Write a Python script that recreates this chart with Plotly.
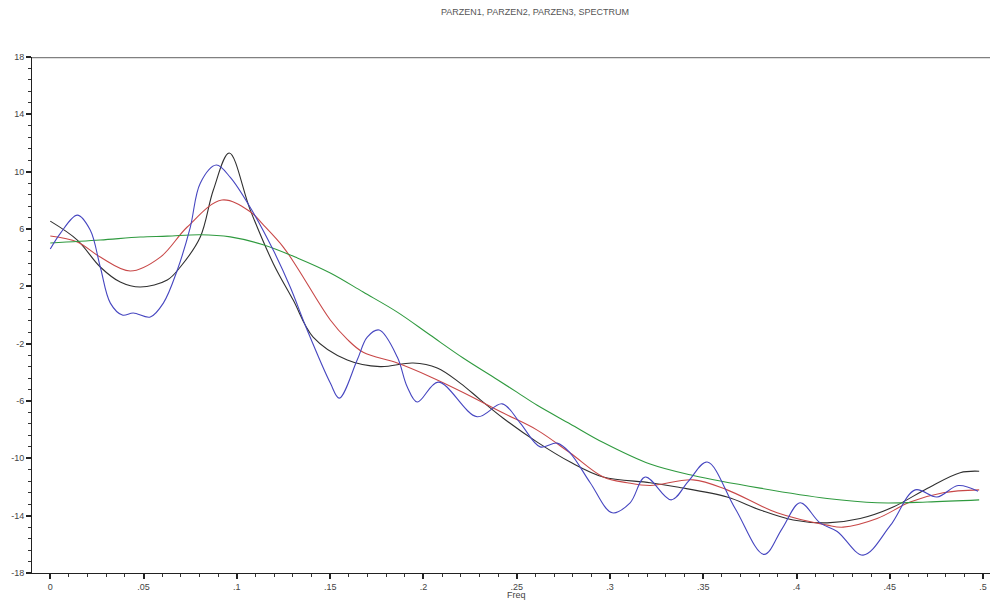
import plotly.graph_objects as go

# ---- data ----
title_text = "PARZEN1, PARZEN2, PARZEN3, SPECTRUM"
x_label = "Freq"

x_tick_vals = [0, 0.05, 0.1, 0.15, 0.2, 0.25, 0.3, 0.35, 0.4, 0.45, 0.5]
x_tick_text = ["0", ".05", ".1", ".15", ".2", ".25", ".3", ".35", ".4", ".45", ".5"]
y_tick_vals = [-18, -14, -10, -6, -2, 2, 6, 10, 14, 18]
y_tick_text = ["-18", "-14", "-10", "-6", "-2", "2", "6", "10", "14", "18"]

# PARZEN1 (black, narrowest smoothing)
parzen1_x = [0, 0.0145, 0.0268, 0.0375, 0.0482, 0.0627, 0.0697, 0.0804, 0.0874, 0.0959,
             0.1072, 0.1195, 0.1302, 0.1409, 0.1592, 0.1768, 0.1945, 0.2074,
             0.2197, 0.2304, 0.2428, 0.2610, 0.2787, 0.2964, 0.3215, 0.3360, 0.3628, 0.3805,
             0.3982, 0.4164, 0.4341, 0.4518, 0.4700, 0.4877, 0.4979]
parzen1_y = [6.55, 5.23, 3.35, 2.3, 1.95, 2.44, 3.35, 5.44, 8.72, 11.3,
             7.32, 3.6, 1.04, -1.54, -3.14, -3.6, -3.35, -3.7,
             -4.75, -5.9, -7.2, -8.87, -10.26, -11.3, -11.7, -12.0, -12.7, -13.6,
             -14.3, -14.5, -14.2, -13.4, -12.1, -11.0, -10.9]

# PARZEN2 (red)
parzen2_x = [0, 0.0145, 0.0268, 0.0429, 0.0590, 0.0734, 0.0920, 0.1072, 0.1141, 0.1249,
             0.1324, 0.1501, 0.1592, 0.1677, 0.1860, 0.2036, 0.2213, 0.2428, 0.2610, 0.2787,
             0.2964, 0.3092, 0.3215, 0.3446, 0.3628, 0.3896, 0.4164, 0.4250, 0.4432, 0.4609,
             0.4786, 0.4979]
parzen2_y = [5.51, 5.1, 4.04, 3.07, 4.04, 6.14, 8.02, 7.2, 6.3, 4.74,
             3.3, -0.35, -1.7, -2.6, -3.35, -4.3, -5.4, -6.84, -8.03, -9.63,
             -11.3, -11.7, -11.9, -11.5, -12.2, -13.8, -14.66, -14.8, -14.2, -13.05,
             -12.4, -12.2]

# PARZEN3 (green, widest smoothing)
parzen3_x = [0, 0.0268, 0.0482, 0.0627, 0.0804, 0.0965, 0.1141, 0.1324, 0.1501, 0.1677,
             0.1860, 0.2036, 0.2213, 0.2395, 0.2503, 0.2610, 0.2787, 0.2964, 0.3215, 0.3446,
             0.3805, 0.4164, 0.4432, 0.4700, 0.4979]
parzen3_y = [5.02, 5.23, 5.44, 5.5, 5.6, 5.45, 4.9, 3.98, 2.93, 1.6,
             0.2, -1.4, -3.0, -4.5, -5.4, -6.3, -7.6, -8.9, -10.4, -11.2,
             -12.08, -12.8, -13.1, -13.05, -12.9]

# SPECTRUM (blue, raw)
spectrum_x = [0, 0.0054, 0.0145, 0.0214, 0.0268, 0.0322, 0.0386, 0.0445, 0.0536, 0.0606,
              0.0681, 0.0750, 0.0804, 0.0890, 0.0965, 0.1072, 0.1195, 0.1286, 0.1377, 0.1501,
              0.1549, 0.1645, 0.1699, 0.1763, 0.1860, 0.1913, 0.1967, 0.2079, 0.2288, 0.2422,
              0.2519, 0.2626, 0.2717, 0.2787, 0.2894, 0.3012, 0.3108, 0.3189, 0.3328, 0.3420,
              0.3521, 0.3671, 0.3826, 0.3923, 0.4019, 0.4126, 0.4218, 0.4357, 0.4502, 0.4636,
              0.4753, 0.4866, 0.4973]
spectrum_y = [4.6, 5.7, 6.97, 5.93, 3.35, 0.83, 0.0, 0.14, -0.14, 0.83,
              3.14, 6.1, 9.2, 10.46, 9.6, 7.5, 4.53, 1.95, -1.05, -4.75,
              -5.8, -3.14, -1.54, -1.05, -2.93, -5.0, -6.07, -4.68, -7.1, -6.2,
              -7.54, -9.2, -8.94, -9.63, -11.7, -13.8, -13.1, -11.3, -12.9, -11.6,
              -10.26, -13.5, -16.7, -14.9, -13.1, -14.5, -15.1, -16.75, -14.7, -12.2,
              -12.7, -11.9, -12.3]

series = [
    ("PARZEN1", parzen1_x, parzen1_y, "#303030"),
    ("PARZEN2", parzen2_x, parzen2_y, "#c84848"),
    ("PARZEN3", parzen3_x, parzen3_y, "#2f9a3f"),
    ("SPECTRUM", spectrum_x, spectrum_y, "#4646c0"),
]

fig = go.Figure()
for name, xs, ys, col in series:
    fig.add_trace(go.Scatter(x=xs, y=ys, mode="lines", name=name,
                             line=dict(color=col, width=1.1, shape="spline", smoothing=1.0)))

font_family = "Liberation Sans, Arial, sans-serif"

fig.update_layout(
    width=992, height=602,
    margin=dict(l=32, r=2, t=57, b=29),
    paper_bgcolor="white", plot_bgcolor="white",
    showlegend=False,
    font=dict(family=font_family, size=9, color="#444444"),
    xaxis=dict(
        range=[-0.0098, 0.5037], tickvals=x_tick_vals, ticktext=x_tick_text,
        automargin=False,
        showgrid=False, zeroline=False, showline=True, linecolor="#222222", linewidth=1,
        ticks="outside", ticklen=5, tickwidth=1.5, tickcolor="#222222",
        minor=dict(dtick=0.01, tick0=0, ticks="outside", ticklen=3, tickwidth=1, tickcolor="#333333"),
        tickfont=dict(size=9, color="#444444"),
    ),
    yaxis=dict(
        range=[-18, 18], tickvals=y_tick_vals, ticktext=y_tick_text,
        automargin=False,
        showgrid=False, zeroline=False, showline=True, linecolor="#222222", linewidth=1,
        ticks="outside", ticklen=5, tickwidth=1.5, tickcolor="#222222",
        minor=dict(dtick=0.8, tick0=-18, ticks="outside", ticklen=3, tickwidth=1, tickcolor="#333333"),
        tickfont=dict(size=9, color="#444444"),
    ),
    shapes=[dict(type="line", xref="paper", yref="y", x0=0, x1=1, y0=18, y1=18,
                 line=dict(color="#808080", width=2.5))],
    annotations=[
        dict(text=title_text, xref="paper", yref="paper", x=0.525, y=1.087,
             xanchor="center", yanchor="middle", showarrow=False,
             font=dict(size=9, color="#555555", family=font_family)),
        dict(text=x_label, xref="x", yref="paper", x=0.25, y=-0.042,
             xanchor="center", yanchor="middle", showarrow=False,
             font=dict(size=9, color="#444444", family=font_family)),
    ],
)

fig.write_html("out.html", config={"displayModeBar": False},
               post_script="document.body.style.margin='0px'; document.body.style.overflow='hidden';")
